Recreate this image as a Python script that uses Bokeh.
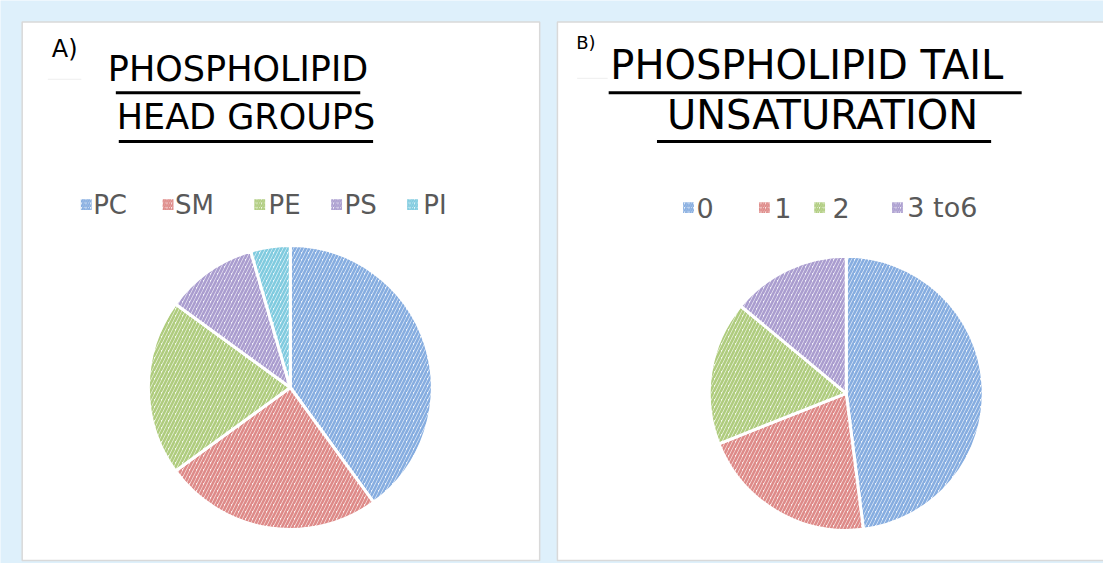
import numpy as np
from bokeh.plotting import figure
from bokeh.models import Range1d, ColumnDataSource
from bokeh.core.properties import value
from bokeh.embed import file_html
from bokeh.resources import INLINE

# ---- data ----
head_groups = ["PC", "SM", "PE", "PS", "PI"]
head_values = [40, 25, 20, 10.5, 4.5]
tail_groups = ["0", "1", "2", "3 to6"]
tail_values = [48, 21, 17, 14]

title_a = ["PHOSPHOLIPID", "HEAD GROUPS"]
title_b = ["PHOSPHOLIPID TAIL", "UNSATURATION"]
panel_labels = ["A)", "B)"]

hatch_colors = ["#86ade0", "#de8a88", "#afcc7e", "#aa9dcf", "#80cbdf"]
fill_colors = ["#f1f6fc", "#fcf1f1", "#f6faf0", "#f5f3fa", "#eff9fc"]

W, H, M = 1119, 579, 8
BG = "#def0fb"

p = figure(width=W - 2 * M, height=H - 2 * M,
           x_range=Range1d(0, W), y_range=Range1d(0, H),
           output_backend="svg", toolbar_location=None, min_border=0,
           background_fill_color=BG, border_fill_color=BG,
           outline_line_color=None)
p.axis.visible = False
p.grid.visible = False


def Y(sy):
    return H - sy


# panels
p.quad(left=[22, 565], right=[547, 1130], top=[Y(22), Y(22)], bottom=[Y(576), Y(576)],
       fill_color="white", line_color="#d9d9d9", line_width=1.5)


def pie(cx, cy, r, vals):
    v = np.array(vals, dtype=float)
    frac = v / v.sum() * 2 * np.pi
    ends = np.cumsum(frac)
    starts = ends - frac
    n = len(v)
    src = ColumnDataSource(dict(start=np.pi / 2 - ends, end=np.pi / 2 - starts,
                                fill=fill_colors[:n], hatch=hatch_colors[:n]))
    p.wedge(x=cx, y=Y(cy), radius=r, start_angle="start", end_angle="end",
            fill_color="fill", hatch_color="hatch", hatch_pattern="/",
            hatch_scale=7, hatch_weight=2.6, line_color="white", line_width=3,
            source=src)


pie(294, 398, 144, head_values)
pie(858, 404, 139, tail_values)


def legend(icon_x, text_x, sy, labels, font, size):
    n = len(labels)
    p.rect(x=icon_x, y=[Y(sy)] * n, width=11, height=11,
           fill_color=fill_colors[:n], hatch_color=hatch_colors[:n], hatch_pattern="/",
           hatch_scale=4.5, hatch_weight=1.8, line_color=None)
    p.text(x=text_x, y=[Y(sy)] * n, text=labels, text_font=value(font),
           text_font_size=size, text_color="#595959", text_align="left",
           text_baseline="middle")


legend([87, 170, 263, 341, 418], [94, 177, 272, 349, 429], 210, head_groups,
       "DejaVu Sans", "26px")
legend([698, 775, 831, 910], [706, 785, 844, 920], 213, tail_groups,
       "DejaVu Sans", "27px")

# titles
p.text(x=[241, 249], y=[Y(70), Y(120)], text=title_a, text_font=value("DejaVu Sans"),
       text_font_size="35px", text_color="black", text_align="center", text_baseline="middle")
p.segment(x0=[117, 120], y0=[Y(95), Y(145)], x1=[365, 378], y1=[Y(95), Y(145)],
          line_color="black", line_width=3)

p.text(x=[818, 834], y=[Y(66), Y(118)], text=title_b, text_font=value("DejaVu Sans"),
       text_font_size="40px", text_color="black", text_align="center", text_baseline="middle")
p.segment(x0=[617, 666], y0=[Y(95), Y(145)], x1=[1036, 1005], y1=[Y(95), Y(145)],
          line_color="black", line_width=3)

# panel labels
p.text(x=[52, 584], y=[Y(50), Y(43)], text=panel_labels, text_font=value("DejaVu Sans"),
       text_font_size=["24px", "18px"], text_color="black", text_align="left",
       text_baseline="middle")
p.segment(x0=[48, 585], y0=[Y(81), Y(80)], x1=[82, 616], y1=[Y(81), Y(80)],
          line_color="#eeeeee", line_width=1)

open("out.html", "w").write(file_html(p, INLINE))
